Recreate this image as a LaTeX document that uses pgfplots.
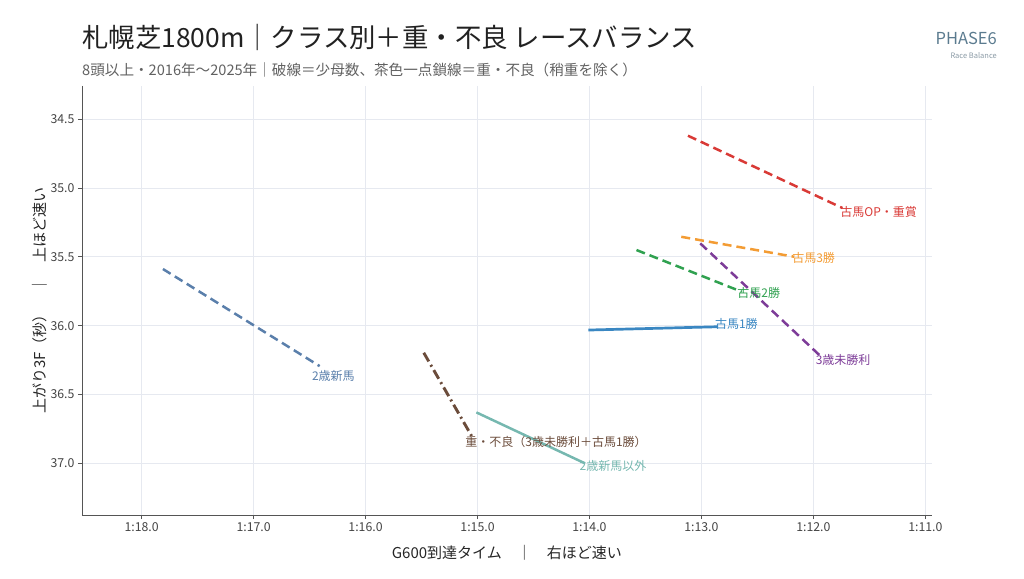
\documentclass[border=0pt]{standalone}
\usepackage{pgfplots}
\pgfplotsset{compat=1.18}
\usepackage{fontspec}
\setmainfont{Noto Sans CJK JP}
\definecolor{cred}{HTML}{D93A36}
\definecolor{corange}{HTML}{F39C34}
\definecolor{cgreen}{HTML}{30A150}
\definecolor{cpurple}{HTML}{7D3C98}
\definecolor{cblue}{HTML}{3A87C2}
\definecolor{csteel}{HTML}{5A7FAB}
\definecolor{cbrown}{HTML}{6B4C3B}
\definecolor{cteal}{HTML}{76B8B0}
\definecolor{cgrid}{HTML}{E6E9F0}
\definecolor{cspine}{HTML}{555555}
\definecolor{ctick}{HTML}{444444}
\definecolor{cbrand}{HTML}{5B7B8F}
\definecolor{cbrand2}{HTML}{8A9AA5}
\begin{document}
\begin{tikzpicture}[x=1pt,y=1pt]
\useasboundingbox (0,0) rectangle (1024,578);
\node[anchor=base west, inner sep=0pt, text=black!87, font=\fontsize{26.4}{30}\selectfont] at (82,530) {札幌芝1800m｜クラス別＋重・不良 レースバランス};
\node[anchor=base west, inner sep=0pt, text=black!62, font=\fontsize{14.6}{16}\selectfont] at (82,502.5) {8頭以上・2016年〜2025年｜破線＝少母数、茶色一点鎖線＝重・不良（稍重を除く）};
\node[anchor=base east, inner sep=0pt, text=cbrand, font=\fontsize{16.5}{20}\selectfont] at (997,533) {PHASE6};
\node[anchor=base east, inner sep=0pt, text=cbrand2, font=\fontsize{7.5}{9}\selectfont] at (997,519) {Race Balance};
\begin{axis}[
  at={(82pt,63pt)}, anchor=south west,
  scale only axis, width=849.7pt, height=429pt,
  x dir=reverse, y dir=reverse,
  xmin=70.943, xmax=78.533, ymin=34.26, ymax=37.375,
  axis lines=left, axis line style={-, color=cspine, line width=0.9pt},
  tick align=outside, major tick length=4pt,
  tick style={color=cspine, line width=0.8pt},
  grid=major, major grid style={color=cgrid, line width=0.8pt},
  xtick={71,72,73,74,75,76,77,78},
  xticklabels={1:11.0,1:12.0,1:13.0,1:14.0,1:15.0,1:16.0,1:17.0,1:18.0},
  ytick={34.5,35.0,35.5,36.0,36.5,37.0},
  yticklabels={34.5,35.0,35.5,36.0,36.5,37.0},
  ticklabel style={font=\fontsize{12.3}{14}\selectfont, text=ctick},
  xlabel={G600到達タイム　｜　右ほど速い},
  ylabel={上がり3F（秒）　｜　上ほど速い},
  every axis x label/.style={at={(axis description cs:0.5,0)}, anchor=center, yshift=-38pt, font=\fontsize{15}{17}\selectfont, text=black!85},
  every axis y label/.style={at={(axis description cs:-0.0494,0.5)}, anchor=center, rotate=90, font=\fontsize{15}{17}\selectfont, text=black!85},
  clip=false,
]
\addplot[cred, line width=2.5pt, dash pattern=on 9pt off 5pt] coordinates {(73.12,34.621) (71.74,35.146)};
\addplot[corange, line width=2.5pt, dash pattern=on 9pt off 5pt] coordinates {(73.18,35.355) (72.17,35.500)};
\addplot[cgreen, line width=2.5pt, dash pattern=on 9pt off 5pt] coordinates {(73.58,35.451) (72.64,35.754)};
\addplot[cpurple, line width=2.5pt, dash pattern=on 9pt off 5pt] coordinates {(73.01,35.403) (71.93,36.226)};
\addplot[cblue, line width=2.7pt] coordinates {(74.01,36.032) (72.85,36.008)};
\addplot[csteel, line width=2.5pt, dash pattern=on 9pt off 5pt] coordinates {(77.81,35.589) (76.41,36.294)};
\addplot[cbrown, line width=2.9pt, dash pattern=on 10pt off 4pt on 2pt off 4pt] coordinates {(75.48,36.197) (75.04,36.819)};
\addplot[cteal, line width=2.5pt] coordinates {(75.01,36.630) (74.04,37.000)};
\begin{scope}[every node/.style={anchor=west, inner sep=0pt, font=\fontsize{12}{14}\selectfont}]
\node[text=cred] at (axis cs:71.76,35.175) {古馬OP・重賞};
\node[text=corange] at (axis cs:72.19,35.509) {古馬3勝};
\node[text=cgreen] at (axis cs:72.68,35.763) {古馬2勝};
\node[text=cpurple] at (axis cs:71.98,36.25) {3歳未勝利};
\node[text=cblue] at (axis cs:72.88,35.99) {古馬1勝};
\node[text=csteel] at (axis cs:76.48,36.366) {2歳新馬};
\node[text=cbrown] at (axis cs:75.11,36.846) {重・不良（3歳未勝利＋古馬1勝）};
\node[text=cteal] at (axis cs:74.09,37.02) {2歳新馬以外};
\end{scope}
\end{axis}
\end{tikzpicture}
\end{document}
